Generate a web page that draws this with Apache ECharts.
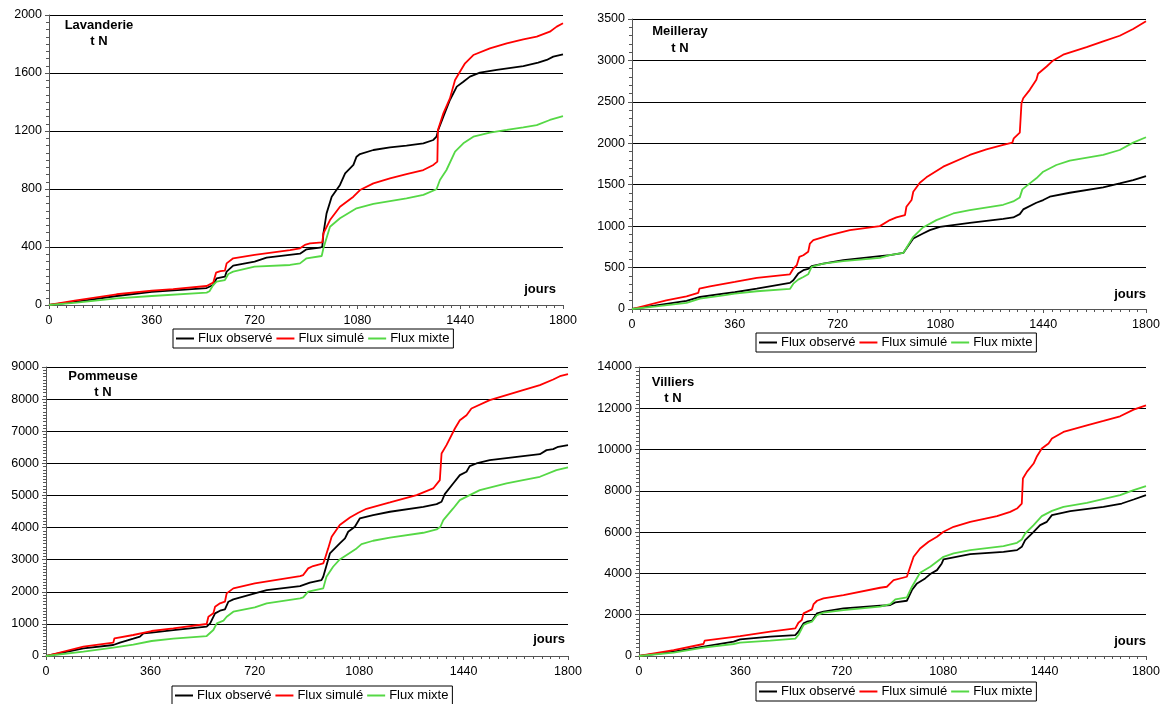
<!DOCTYPE html>
<html>
<head>
<meta charset="utf-8">
<script src="https://cdn.jsdelivr.net/npm/echarts@6.0.0/dist/echarts.min.js"></script>
<style>
  html, body { margin: 0; padding: 0; background: #fff; }
  #chart { width: 1164px; height: 704px; }
</style>
</head>
<body>
<div id="chart"></div>
<script>
// noms
var seriesNames = ['Flux observé', 'Flux simulé', 'Flux mixte'];
var stations = ['Lavanderie', 'Meilleray', 'Pommeuse', 'Villiers'];
var yMaxs = [2000, 3500, 9000, 14000];
var ySteps = [400, 500, 1000, 2000];
var yMinorSplits = [8, 5, 10, 10];
var xMax = 1800;
var xStep = 360;

// Lavanderie  [jour, t N]
var lavObs = [[0,0],[97,23],[237,62],[360,90],[552,117],[575,138],[587,184],[616,195],[622,230],[645,271],[720,299],[762,326],[879,354],[902,384],[949,395],[957,402],[961,494],[972,632],[990,747],[1019,828],[1037,908],[1066,966],[1077,1023],[1089,1041],[1136,1069],[1194,1087],[1252,1099],[1311,1115],[1346,1138],[1357,1161],[1363,1207],[1381,1299],[1404,1414],[1428,1506],[1451,1540],[1474,1575],[1509,1602],[1568,1621],[1661,1648],[1713,1671],[1743,1690],[1766,1713],[1800,1729]];
var lavSim = [[0,0],[90,30],[97,36],[237,74],[360,99],[435,110],[552,131],[575,154],[585,223],[600,233],[616,237],[622,287],[645,322],[720,345],[844,379],[879,391],[896,414],[914,425],[957,432],[961,494],[984,586],[1019,678],[1066,747],[1089,793],[1136,839],[1194,874],[1252,903],[1311,931],[1346,966],[1360,989],[1362,1207],[1381,1322],[1404,1425],[1422,1552],[1439,1609],[1457,1667],[1486,1724],[1544,1770],[1603,1805],[1661,1832],[1708,1851],[1754,1885],[1778,1920],[1800,1943]];
var lavMix = [[0,0],[97,16],[237,46],[360,62],[552,85],[562,95],[575,138],[587,161],[616,172],[628,214],[645,230],[720,264],[844,276],[879,287],[902,322],[955,338],[961,391],[984,540],[1019,598],[1077,667],[1136,697],[1194,717],[1252,736],[1311,759],[1357,798],[1369,862],[1392,931],[1422,1057],[1451,1115],[1486,1161],[1544,1189],[1603,1207],[1661,1225],[1708,1241],[1754,1276],[1800,1303]];

// Meilleray
var meiObs = [[0,0],[85,44],[191,97],[238,145],[320,185],[360,202],[437,246],[553,315],[565,347],[582,427],[600,468],[617,484],[629,516],[670,548],[740,589],[868,637],[903,649],[950,677],[956,690],[985,851],[1019,911],[1043,952],[1078,992],[1183,1040],[1300,1089],[1335,1105],[1358,1145],[1370,1202],[1416,1282],[1440,1315],[1463,1355],[1533,1403],[1650,1468],[1708,1516],[1755,1556],[1800,1603]];
var meiSim = [[0,0],[120,105],[191,153],[232,194],[236,246],[273,274],[360,327],[437,375],[553,419],[559,425],[565,488],[577,528],[586,629],[600,649],[617,690],[623,790],[635,831],[693,891],[763,952],[868,1000],[903,1073],[926,1105],[956,1133],[961,1234],[979,1315],[985,1415],[1008,1524],[1031,1589],[1090,1718],[1183,1859],[1241,1927],[1300,1980],[1332,2008],[1337,2060],[1358,2129],[1364,2484],[1370,2544],[1393,2645],[1416,2766],[1422,2839],[1452,2927],[1475,3000],[1510,3069],[1592,3161],[1650,3230],[1708,3298],[1755,3379],[1800,3472]];
var meiMix = [[0,0],[85,32],[191,73],[238,125],[320,165],[360,185],[437,214],[553,242],[565,306],[582,355],[600,387],[617,419],[629,508],[670,548],[740,577],[868,617],[903,649],[950,677],[956,690],[985,871],[1019,984],[1066,1073],[1125,1153],[1183,1194],[1300,1258],[1335,1298],[1358,1347],[1367,1444],[1393,1516],[1416,1577],[1440,1657],[1486,1738],[1533,1790],[1650,1859],[1708,1919],[1755,2008],[1800,2073]];

// Pommeuse
var pomObs = [[0,0],[129,239],[232,342],[255,415],[301,539],[324,602],[336,705],[364,726],[439,809],[554,913],[566,1017],[583,1328],[600,1411],[617,1452],[629,1691],[646,1763],[720,1950],[761,2054],[876,2178],[910,2282],[950,2365],[956,2469],[979,3195],[1013,3506],[1031,3662],[1042,3869],[1065,4025],[1082,4284],[1128,4388],[1186,4492],[1301,4647],[1347,4730],[1364,4803],[1375,5041],[1404,5373],[1427,5633],[1450,5737],[1461,5913],[1484,5996],[1530,6100],[1645,6224],[1703,6286],[1726,6411],[1749,6442],[1766,6515],[1800,6566]];
var pomSim = [[0,0],[129,290],[232,415],[236,550],[301,654],[364,778],[439,861],[554,996],[560,1224],[577,1328],[583,1535],[600,1639],[617,1691],[623,1950],[646,2106],[720,2261],[876,2490],[887,2521],[904,2728],[921,2801],[956,2884],[962,3039],[973,3351],[985,3714],[1013,4077],[1048,4315],[1077,4461],[1105,4585],[1186,4782],[1278,5010],[1335,5218],[1358,5477],[1364,6307],[1381,6566],[1410,7085],[1427,7344],[1450,7500],[1467,7707],[1530,7967],[1645,8278],[1703,8434],[1749,8610],[1772,8714],[1800,8776]];
var pomMix = [[0,0],[129,135],[232,259],[301,353],[364,467],[439,539],[554,622],[577,809],[589,1017],[612,1100],[623,1224],[646,1380],[720,1515],[761,1639],[876,1795],[887,1826],[904,2002],[956,2106],[967,2469],[990,2780],[1013,3008],[1071,3351],[1088,3486],[1128,3589],[1186,3683],[1301,3838],[1347,3942],[1360,4025],[1370,4232],[1404,4595],[1427,4855],[1461,5010],[1496,5166],[1588,5373],[1645,5477],[1703,5581],[1760,5788],[1800,5871]];

// Villiers
var vilObs = [[0,0],[123,210],[229,452],[336,694],[359,806],[466,935],[555,1016],[566,1177],[584,1581],[596,1661],[614,1710],[632,2065],[655,2145],[726,2306],[856,2435],[892,2468],[910,2597],[951,2677],[969,3194],[987,3516],[1016,3758],[1034,3968],[1058,4161],[1075,4484],[1081,4677],[1176,4935],[1294,5048],[1342,5129],[1359,5290],[1371,5613],[1401,6016],[1424,6339],[1448,6500],[1466,6823],[1531,7016],[1649,7226],[1714,7387],[1756,7581],[1800,7790]];
var vilSim = [[0,0],[123,290],[229,581],[233,742],[359,968],[466,1177],[555,1339],[566,1613],[578,1742],[584,2065],[614,2258],[620,2516],[632,2677],[655,2790],[726,2952],[856,3306],[880,3355],[892,3516],[904,3677],[951,3839],[957,4081],[975,4806],[998,5210],[1028,5532],[1058,5774],[1081,6016],[1117,6258],[1176,6500],[1271,6774],[1318,6984],[1342,7145],[1359,7387],[1363,8597],[1377,8919],[1401,9323],[1413,9677],[1430,10048],[1454,10290],[1466,10532],[1507,10855],[1590,11177],[1649,11387],[1708,11613],[1756,11935],[1800,12145]];
var vilMix = [[0,0],[123,161],[229,403],[336,581],[359,645],[466,742],[555,839],[566,1016],[584,1500],[596,1581],[614,1661],[632,1984],[655,2097],[726,2226],[856,2387],[892,2516],[910,2742],[951,2839],[969,3355],[998,4032],[1034,4323],[1081,4806],[1117,4968],[1176,5129],[1294,5323],[1342,5484],[1359,5645],[1371,5935],[1401,6339],[1430,6774],[1466,7032],[1507,7226],[1590,7419],[1708,7790],[1756,8032],[1800,8226]];

var panelData = [
  [lavObs, lavSim, lavMix],
  [meiObs, meiSim, meiMix],
  [pomObs, pomSim, pomMix],
  [vilObs, vilSim, vilMix]
];

var font = 'Liberation Sans, Arial, sans-serif';
var colors = ['#000000', '#ff0000', '#55d845'];

// mise en page des 4 graphes
var grids = [
  { left: 49, top: 15, width: 514, height: 290 },
  { left: 632, top: 19, width: 514, height: 290 },
  { left: 46, top: 367, width: 522, height: 289 },
  { left: 639, top: 367, width: 507, height: 289 }
];
var legendPos = [[173, 329], [756, 333], [172, 686], [756, 682]];
var titlePos = [[99, 19, 35], [680, 25, 42], [103, 370, 386], [673, 376, 392]];
var joursPos = [[556, 283], [1146, 288], [565, 633], [1146, 635]];

var xAxes = [], yAxes = [], series = [], legends = [], graphics = [];

function plain(v) { return String(v); }

for (var i = 0; i < 4; i++) {
  xAxes.push({
    gridIndex: i,
    type: 'value',
    min: 0,
    max: xMax,
    interval: xStep,
    axisLine: { show: true, onZero: false, lineStyle: { color: '#555', width: 1 } },
    axisTick: { show: true, length: 4, lineStyle: { color: '#555' } },
    minorTick: { show: true, splitNumber: 12, length: 3, lineStyle: { color: '#555' } },
    splitLine: { show: false },
    axisLabel: { color: '#000', fontSize: 12.5, fontFamily: font, margin: 9, formatter: plain }
  });
  yAxes.push({
    gridIndex: i,
    type: 'value',
    min: 0,
    max: yMaxs[i],
    interval: ySteps[i],
    axisLine: { show: true, onZero: false, lineStyle: { color: '#555', width: 1 } },
    axisTick: { show: true, length: 4, lineStyle: { color: '#555' } },
    minorTick: { show: true, splitNumber: yMinorSplits[i], length: 3, lineStyle: { color: '#555' } },
    splitLine: { show: true, lineStyle: { color: '#000', width: 1 } },
    axisLabel: { color: '#000', fontSize: 12.5, fontFamily: font, margin: 7, formatter: plain }
  });
  for (var s = 0; s < 3; s++) {
    series.push({
      name: seriesNames[s],
      type: 'line',
      xAxisIndex: i,
      yAxisIndex: i,
      data: panelData[i][s],
      showSymbol: false,
      symbol: 'none',
      lineStyle: { color: colors[s], width: 1.8 },
      itemStyle: { color: colors[s] }
    });
  }
  legends.push({
    data: seriesNames,
    left: legendPos[i][0],
    top: legendPos[i][1],
    orient: 'horizontal',
    icon: 'rect',
    itemWidth: 18,
    itemHeight: 2,
    itemGap: 4,
    padding: [2, 4, 2, 3],
    borderColor: '#000',
    borderWidth: 1,
    selectedMode: false,
    textStyle: { color: '#000', fontSize: 13, fontFamily: font, lineHeight: 15, padding: [0, 0, 0, -1] }
  });
  graphics.push({
    type: 'text', x: titlePos[i][0], y: titlePos[i][1],
    style: { text: stations[i], fill: '#000', font: 'bold 13px ' + font, textAlign: 'center', textVerticalAlign: 'top' }
  });
  graphics.push({
    type: 'text', x: titlePos[i][0], y: titlePos[i][2],
    style: { text: 't N', fill: '#000', font: 'bold 13px ' + font, textAlign: 'center', textVerticalAlign: 'top' }
  });
  graphics.push({
    type: 'text', x: joursPos[i][0], y: joursPos[i][1],
    style: { text: 'jours', fill: '#000', font: 'bold 13px ' + font, textAlign: 'right', textVerticalAlign: 'top' }
  });
}

var chart = echarts.init(document.getElementById('chart'));
chart.setOption({
  animation: false,
  backgroundColor: '#fff',
  grid: grids,
  xAxis: xAxes,
  yAxis: yAxes,
  legend: legends,
  series: series,
  graphic: graphics
});
</script>
</body>
</html>
